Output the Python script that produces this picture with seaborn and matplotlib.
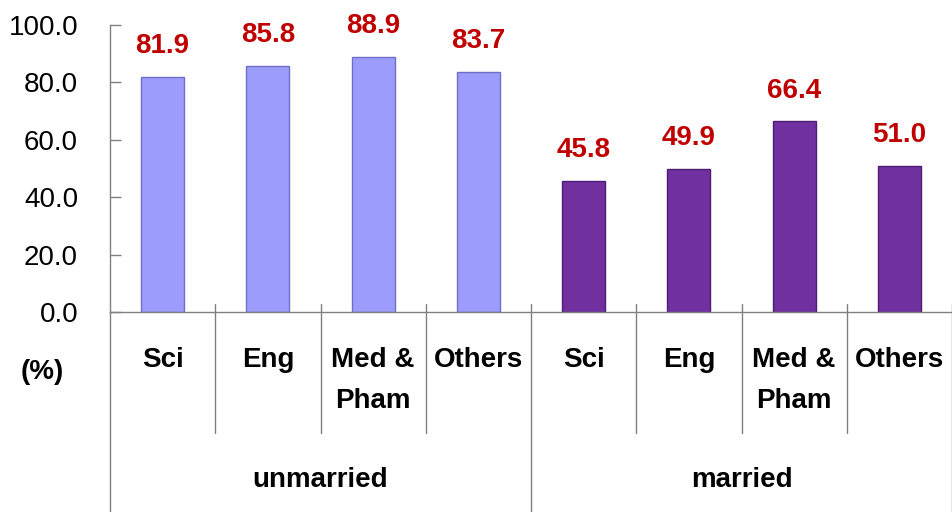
import matplotlib
matplotlib.use("Agg")
import matplotlib.pyplot as plt
import seaborn as sns
import pandas as pd

groups = ["unmarried", "married"]
fields = ["Sci", "Eng", "Med &\nPham", "Others"]
unmarried_vals = [81.9, 85.8, 88.9, 83.7]
married_vals = [45.8, 49.9, 66.4, 51.0]
yticks = [0, 20, 40, 60, 80, 100]

rows = []
for g, vals in zip(groups, [unmarried_vals, married_vals]):
    for f, v in zip(fields, vals):
        rows.append({"group": g, "field": f, "key": f"{g}|{f}", "value": v})
df = pd.DataFrame(rows)

sns.set_theme(style="white")
plt.rcParams["font.family"] = ["Liberation Sans", "DejaVu Sans"]

W, H = 952, 512
fig = plt.figure(figsize=(W / 100, H / 100), dpi=100)
ax_l, ax_r, ax_top, ax_bot = 110, 952, 25, 312
ax = fig.add_axes([ax_l / W, 1 - ax_bot / H, (ax_r - ax_l) / W, (ax_bot - ax_top) / H])

palette = {"unmarried": "#9C9CFC", "married": "#7030A0"}
edges = {"unmarried": "#6F6FC8", "married": "#4E1E74"}
sns.barplot(data=df, x="key", y="value", hue="group", palette=palette,
            dodge=False, width=0.41, ax=ax, legend=False, saturation=1,
            order=list(df["key"]))
for patch, g in zip(ax.patches, df["group"]):
    patch.set_edgecolor(edges[g])
    patch.set_linewidth(1.0)

n = len(df)
ax.set_xlim(-0.5, n - 0.5)
ax.set_ylim(0, 100)
ax.set_yticks(yticks)
ax.set_yticklabels([f"{t:.1f}" for t in yticks], fontsize=20, color="#000000")
ax.tick_params(axis="y", direction="in", length=8, width=1, color="#808080",
               left=True, pad=23)
ax.tick_params(axis="x", bottom=False, labelbottom=False)
ax.set_xlabel("")
ax.set_ylabel("")
for s in ["top", "right"]:
    ax.spines[s].set_visible(False)
for s in ["left", "bottom"]:
    ax.spines[s].set_color("#808080")
    ax.spines[s].set_linewidth(1.0)

# value labels
for i, v in enumerate(df["value"]):
    ax.annotate(f"{v:.1f}", (i, v), xytext=(0, 17), textcoords="offset points",
                ha="center", va="baseline", fontsize=20, fontweight="bold",
                color="#C00000")

trans = ax.get_xaxis_transform()
h_ax = ax_bot - ax_top
def fy(px):
    return (ax_bot - px) / h_ax

# separators
for b in range(n + 1):
    xb = b - 0.5
    if b % 4 == 0:
        y_low = fy(512)
    else:
        y_low = fy(433)
    y_high = fy(304) if b > 0 else 0
    ax.plot([xb, xb], [y_low, y_high], color="#808080", lw=1.0,
            transform=trans, clip_on=False)

# category labels
for i, f in enumerate(df["field"]):
    for j, line in enumerate(f.split("\n")):
        ax.text(i, fy(367 + 41 * j), line, transform=trans, ha="center",
                va="baseline", fontsize=20, fontweight="bold", color="#000000")

# group labels
for gi, g in enumerate(groups):
    ax.text(gi * 4 + 1.5, fy(487), g, transform=trans, ha="center",
            va="baseline", fontsize=20, fontweight="bold", color="#000000")

fig.text(42 / W, 1 - 379 / H, "(%)", ha="center", va="baseline",
         fontsize=20, fontweight="bold", color="#000000")

fig.savefig("out.png", dpi=100)
